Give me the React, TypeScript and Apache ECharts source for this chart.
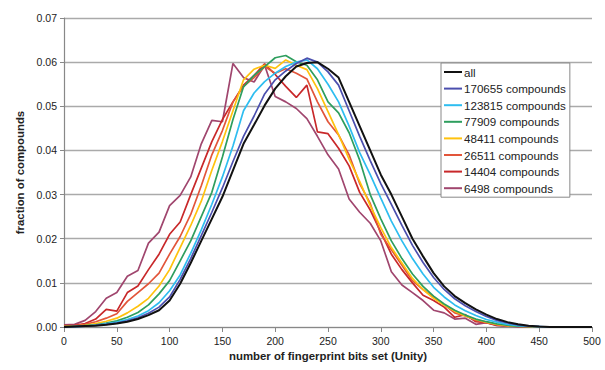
import React, { useEffect, useRef } from "react";
import * as echarts from "echarts";

const xs = [0,10,20,30,40,50,60,70,80,90,100,110,120,130,140,150,160,170,180,190,200,210,220,230,240,250,260,270,280,290,300,310,320,330,340,350,360,370,380,390,400,410,420,430,440,450,460,470,480,490,500];

const seriesNames = ["all","170655 compounds","123815 compounds","77909 compounds","48411 compounds","26511 compounds","14404 compounds","6498 compounds"];
const seriesColors = ["#111111","#4b4fae","#2ebdf0","#2e9e5e","#ffc20e","#e2553a","#c8282a","#a0466e"];

const allVals = [0,0.0001,0.0002,0.0003,0.0005,0.0008,0.0012,0.0018,0.0027,0.0038,0.0060,0.0098,0.0145,0.0195,0.0245,0.0295,0.0355,0.0415,0.0458,0.0502,0.0540,0.0568,0.0590,0.0598,0.0600,0.0585,0.0565,0.0510,0.0455,0.0400,0.0345,0.0300,0.0250,0.0200,0.0160,0.0122,0.0092,0.0070,0.0054,0.0040,0.0028,0.0018,0.0011,0.0006,0.0003,0.0001,0,0,0,0,0];
const c170655 = [0,0.0001,0.0002,0.0004,0.0006,0.0009,0.0014,0.0021,0.0031,0.0045,0.0068,0.0108,0.0155,0.0207,0.0260,0.0315,0.0375,0.0432,0.0478,0.0528,0.0560,0.0580,0.0597,0.0609,0.0600,0.0578,0.0548,0.0490,0.0432,0.0377,0.0325,0.0278,0.0230,0.0185,0.0146,0.0112,0.0085,0.0064,0.0048,0.0035,0.0024,0.0015,0.0009,0.0005,0.0002,0.0001,0,0,0,0,0];
const c123815 = [0,0.0001,0.0002,0.0004,0.0007,0.0011,0.0017,0.0025,0.0037,0.0055,0.0082,0.0118,0.0167,0.0220,0.0278,0.0340,0.0410,0.0490,0.0530,0.0556,0.0575,0.0590,0.0600,0.0605,0.0585,0.0550,0.0510,0.0455,0.0395,0.0345,0.0292,0.0240,0.0195,0.0155,0.0120,0.0090,0.0068,0.0050,0.0037,0.0026,0.0017,0.0011,0.0006,0.0003,0.0002,0.0001,0,0,0,0,0];
const c77909 = [0.0001,0.0001,0.0003,0.0005,0.0009,0.0014,0.0022,0.0033,0.0050,0.0075,0.0105,0.0150,0.0195,0.0250,0.0305,0.0385,0.0470,0.0544,0.0570,0.0590,0.0610,0.0615,0.0601,0.0593,0.0560,0.0510,0.0485,0.0440,0.0378,0.0300,0.0245,0.0195,0.0155,0.0120,0.0092,0.0070,0.0052,0.0038,0.0027,0.0018,0.0012,0.0007,0.0004,0.0002,0.0001,0,0,0,0,0,0];
const c48411 = [0.0001,0.0002,0.0004,0.0008,0.0013,0.0020,0.0032,0.0047,0.0065,0.0093,0.0130,0.0180,0.0230,0.0285,0.0355,0.0420,0.0490,0.0560,0.0584,0.0593,0.0586,0.0605,0.0593,0.0583,0.0540,0.0488,0.0436,0.0380,0.0330,0.0275,0.0225,0.0180,0.0145,0.0110,0.0085,0.0065,0.0050,0.0036,0.0025,0.0017,0.0011,0.0006,0.0003,0.0002,0.0001,0,0,0,0,0,0];
const c26511 = [0.0002,0.0003,0.0006,0.0012,0.0020,0.0030,0.0058,0.0078,0.0098,0.0122,0.0165,0.0205,0.0255,0.0320,0.0390,0.0445,0.0510,0.0545,0.0565,0.0590,0.0575,0.0585,0.0575,0.0562,0.0510,0.0465,0.0435,0.0390,0.0325,0.0280,0.0210,0.0175,0.0140,0.0105,0.0085,0.0068,0.0050,0.0032,0.0025,0.0015,0.0010,0.0005,0.0003,0.0002,0.0001,0,0,0,0,0,0];
const c14404 = [0.0003,0.0004,0.0008,0.0018,0.0040,0.0036,0.0078,0.0093,0.0130,0.0165,0.0210,0.0238,0.0300,0.0360,0.0420,0.0470,0.0510,0.0548,0.0570,0.0596,0.0572,0.0545,0.0520,0.0548,0.0442,0.0438,0.0405,0.0365,0.0305,0.0265,0.0215,0.0165,0.0130,0.0100,0.0072,0.0060,0.0045,0.0022,0.0028,0.0012,0.0010,0.0004,0.0003,0.0001,0.0001,0,0,0,0,0,0];
const c6498 = [0.0005,0.0006,0.0015,0.0035,0.0065,0.0078,0.0115,0.0128,0.0190,0.0215,0.0275,0.0298,0.0340,0.0415,0.0468,0.0465,0.0597,0.0565,0.0555,0.0593,0.0522,0.0510,0.0495,0.0472,0.0432,0.0390,0.0358,0.0290,0.0260,0.0235,0.0195,0.0125,0.0095,0.0078,0.0060,0.0038,0.0032,0.0018,0.0020,0.0006,0.0010,0.0003,0.0002,0.0001,0.0001,0,0,0,0,0,0];

const seriesValues = [allVals, c170655, c123815, c77909, c48411, c26511, c14404, c6498];

export default function App() {
  const ref = useRef<HTMLDivElement>(null);
  useEffect(() => {
    if (!ref.current) return;
    const chart = echarts.init(ref.current, undefined, { renderer: "svg" });
    const font = "Liberation Sans, Arial, sans-serif";
    chart.setOption({
      animation: false,
      backgroundColor: "#ffffff",
      textStyle: { fontFamily: font },
      grid: { left: 64, right: 13, top: 18, bottom: 43 },
      legend: {
        orient: "vertical",
        left: 441,
        top: 63,
        padding: [2, 4, 2, 3],
        icon: "rect",
        itemGap: 2.6,
        itemWidth: 18,
        itemHeight: 2,
        backgroundColor: "#ffffff",
        borderColor: "#888888",
        borderWidth: 1,
        borderRadius: 0,
        textStyle: { fontFamily: font, fontSize: 11.6, lineHeight: 14, color: "#222", padding: [0, 0, 0, -3] },
        data: seriesNames,
      },
      xAxis: {
        type: "value",
        min: 0,
        max: 500,
        interval: 50,
        name: "number of fingerprint bits set (Unity)",
        nameLocation: "middle",
        nameGap: 22,
        nameTextStyle: { fontFamily: font, fontSize: 11.4, fontWeight: "bold", color: "#222" },
        axisLine: { show: true, lineStyle: { color: "#888", width: 1.2 } },
        axisTick: { show: true, length: 5, lineStyle: { color: "#888" } },
        axisLabel: { fontFamily: font, fontSize: 10.5, color: "#222", margin: 8 },
        splitLine: { show: false },
      },
      yAxis: {
        type: "value",
        min: 0,
        max: 0.07,
        interval: 0.01,
        name: "fraction of compounds",
        nameLocation: "middle",
        nameRotate: 90,
        nameGap: 38,
        nameTextStyle: { fontFamily: font, fontSize: 11.4, fontWeight: "bold", color: "#222" },
        axisLine: { show: true, lineStyle: { color: "#888", width: 1.2 } },
        axisTick: { show: true, length: 4, lineStyle: { color: "#888" } },
        axisLabel: { fontFamily: font, fontSize: 10.5, color: "#222", margin: 7, formatter: (v: number) => v.toFixed(2) },
        splitLine: { show: true, lineStyle: { color: "#aaaaaa", width: 1.3 } },
      },
      series: seriesNames.map((name, i) => ({
        name,
        type: "line",
        symbol: "none",
        data: xs.map((x, j) => [x, seriesValues[i][j]]),
        lineStyle: { color: seriesColors[i], width: i === 0 ? 2 : 1.7 },
        itemStyle: { color: seriesColors[i] },
        z: 10 - i,
      })),
    });
    return () => chart.dispose();
  }, []);
  return <div ref={ref} style={{ position: "fixed", left: 0, top: 0, width: 605, height: 370 }} />;
}
